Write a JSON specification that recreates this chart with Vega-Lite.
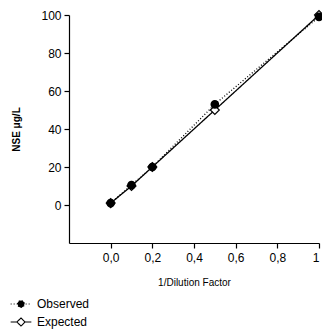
{
  "$schema": "https://vega.github.io/schema/vega-lite/v6.json",
  "width": 250,
  "height": 228,
  "autosize": {"type": "none"},
  "padding": {"left": 69, "top": 15, "right": 3, "bottom": 88},
  "background": "white",
  "config": {
    "view": {"stroke": null},
    "font": "Liberation Sans",
    "axis": {"domainColor": "black", "tickColor": "black", "labelColor": "black", "titleColor": "black", "grid": false, "domainWidth": 1.2, "tickWidth": 1.2}
  },
  "data": {
    "values": [
      {"series": "Observed", "x": 0.0, "y": 1},
      {"series": "Observed", "x": 0.1, "y": 10.5},
      {"series": "Observed", "x": 0.2, "y": 20},
      {"series": "Observed", "x": 0.5, "y": 53},
      {"series": "Observed", "x": 1.0, "y": 99},
      {"series": "Expected", "x": 0.0, "y": 1},
      {"series": "Expected", "x": 0.1, "y": 10},
      {"series": "Expected", "x": 0.2, "y": 20},
      {"series": "Expected", "x": 0.5, "y": 50},
      {"series": "Expected", "x": 1.0, "y": 100}
    ]
  },
  "encoding": {
    "x": {
      "field": "x", "type": "quantitative",
      "scale": {"domain": [-0.2, 1], "nice": false, "zero": false},
      "axis": {
        "values": [0, 0.2, 0.4, 0.6, 0.8, 1],
        "labelExpr": "datum.value === 1 ? '1' : replace(format(datum.value, '.1f'), '.', ',')",
        "title": "1/Dilution Factor",
        "titleFontSize": 10, "titleFontWeight": "normal", "titlePadding": 14,
        "labelFontSize": 12, "labelPadding": 4, "tickSize": 5
      }
    },
    "y": {
      "field": "y", "type": "quantitative",
      "scale": {"domain": [-20, 100], "nice": false},
      "axis": {
        "values": [0, 20, 40, 60, 80, 100],
        "title": "NSE \u03bcg/L",
        "titleFontSize": 10, "titleFontWeight": "bold", "titlePadding": 19,
        "labelFontSize": 12, "labelPadding": 3, "tickSize": 5
      }
    }
  },
  "layer": [
    {
      "mark": {"type": "line", "color": "black", "strokeWidth": 1.3},
      "encoding": {
        "detail": {"field": "series"},
        "strokeDash": {
          "field": "series", "type": "nominal",
          "scale": {"domain": ["Observed", "Expected"], "range": [[1, 2], [1, 0]]},
          "legend": {
            "orient": "none", "legendX": -58, "legendY": 279,
            "title": null, "direction": "vertical",
            "labelFontSize": 12, "labelColor": "black", "labelOffset": 6,
            "rowPadding": 2, "symbolSize": 324, "symbolStrokeWidth": 1.1,
            "symbolStrokeColor": "black",
            "encode": {
              "symbols": {
                "update": {
                  "shape": {"signal": "datum.value === 'Observed' ? 'M-1.15,0L1.15,0M-0.38,0A0.38,0.38,0,1,1,0.38,0A0.38,0.38,0,1,1,-0.38,0Z' : 'M-1.15,0L-0.45,0M0.45,0L1.15,0M0,-0.45L0.45,0L0,0.45L-0.45,0Z'"},
                  "fill": {"signal": "datum.value === 'Observed' ? 'black' : 'white'"},
                  "stroke": {"value": "black"},
                  "strokeDash": {"signal": "datum.value === 'Observed' ? [1, 2] : [1, 0]"}
                }
              }
            }
          }
        }
      }
    },
    {
      "transform": [{"filter": "datum.series === 'Expected'"}],
      "mark": {"type": "point", "shape": "diamond", "filled": true, "fill": "white", "stroke": "black", "strokeWidth": 1.2, "size": 80, "opacity": 1}
    },
    {
      "transform": [{"filter": "datum.series === 'Observed'"}],
      "mark": {"type": "point", "shape": "circle", "filled": true, "fill": "black", "stroke": "black", "size": 45, "opacity": 1}
    }
  ]
}
